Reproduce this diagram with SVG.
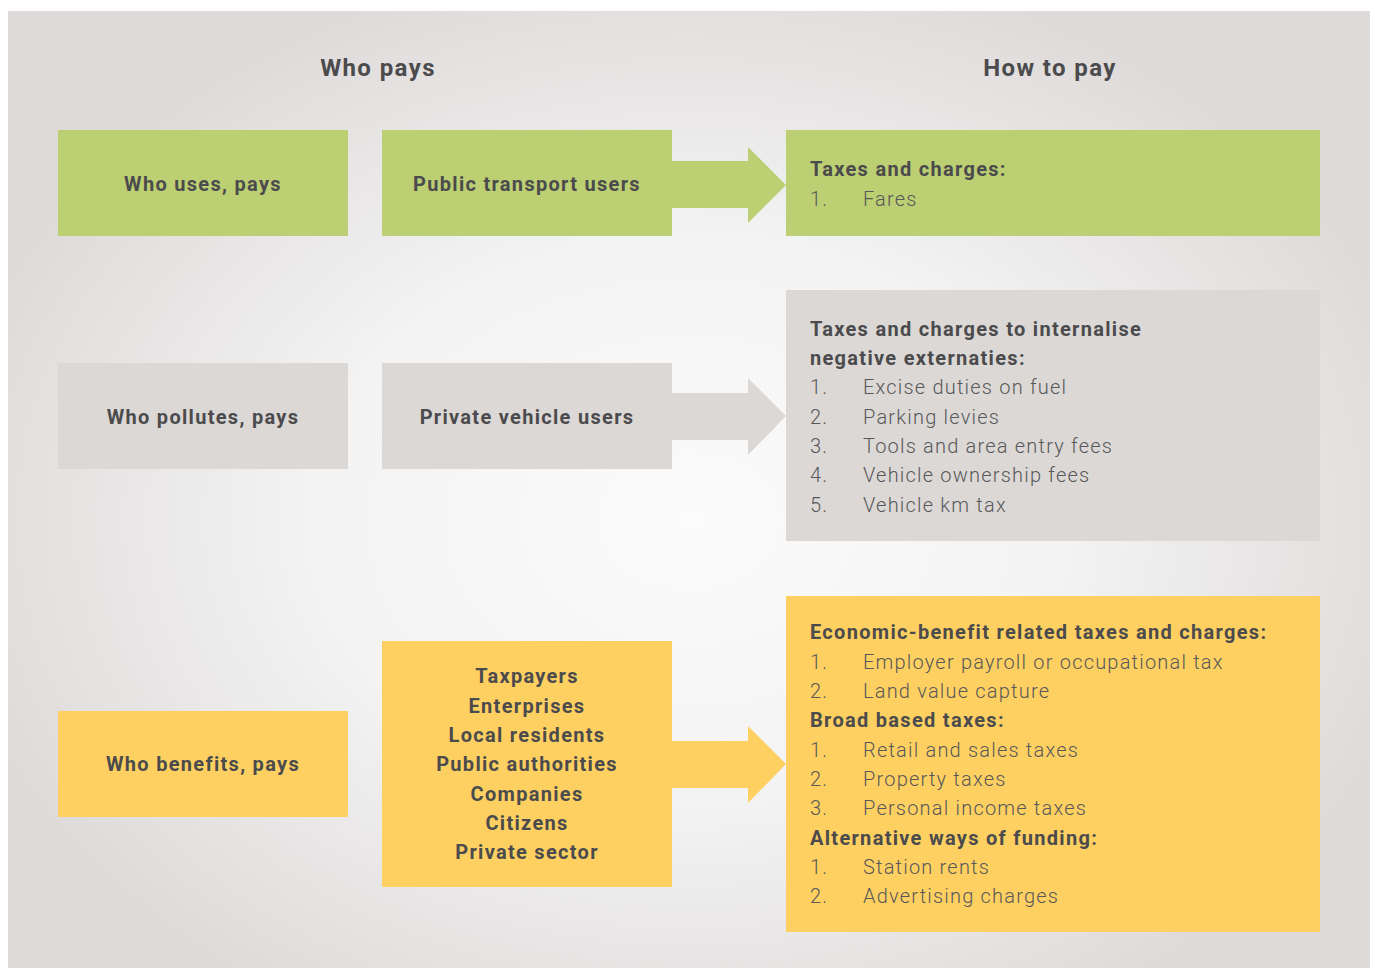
<svg xmlns="http://www.w3.org/2000/svg" width="1375" height="968" viewBox="0 0 1375 968">
<defs>
<radialGradient id="bg" cx="690" cy="520" r="760" gradientUnits="userSpaceOnUse" gradientTransform="translate(690 520) scale(1 0.75) translate(-690 -520)">
<stop offset="0" stop-color="#fbfbfb"/>
<stop offset="0.5" stop-color="#f3f3f3"/>
<stop offset="1" stop-color="#dedad9"/>
</radialGradient>
<style>
text{font-family:Roboto,"Liberation Sans",sans-serif;fill:#4b4b4d}
.h{font-size:24px;font-weight:bold;text-anchor:middle;letter-spacing:1.4px}
.b{font-size:20px;font-weight:bold;letter-spacing:1.3px}
.c{text-anchor:middle}
.i{font-size:20px;font-weight:300;fill:#58585a;letter-spacing:1.2px}
.g{fill:#bccf72}
.y{fill:#fed061}
.r{fill:#dcd8d5}
</style>
</defs>
<rect x="0" y="0" width="1375" height="968" fill="#ffffff"/>
<rect x="8" y="11" width="1362" height="957" fill="url(#bg)"/>
<text class="h" x="378" y="76">Who pays</text>
<text class="h" x="1050" y="76">How to pay</text>
<g id="connectors">
<polygon class="g" points="672,161 748,161 748,147 786,185 748,223 748,208 672,208"/>
<polygon class="r" points="672,393 748,393 748,378 786,416 748,455 748,440 672,440"/>
<polygon class="y" points="672,741 748,741 748,726 786,764 748,803 748,788 672,788"/>
</g>
<g id="who-uses">
<rect class="g" x="58" y="130" width="290" height="106"/>
<text class="b c" x="203" y="191">Who uses, pays</text>
</g>
<g id="public-transport">
<rect class="g" x="382" y="130" width="290" height="106"/>
<text class="b c" x="527" y="191">Public transport users</text>
</g>
<g id="taxes-charges">
<rect class="g" x="786" y="130" width="534" height="106"/>
<text class="b" x="810" y="176">Taxes and charges:</text>
<text class="i" x="810" y="206">1.</text><text class="i" x="863" y="206">Fares</text>
</g>
<g id="who-pollutes">
<rect class="r" x="58" y="363" width="290" height="106"/>
<text class="b c" x="203" y="424">Who pollutes, pays</text>
</g>
<g id="private-vehicle">
<rect class="r" x="382" y="363" width="290" height="106"/>
<text class="b c" x="527" y="424">Private vehicle users</text>
</g>
<g id="externalities">
<rect class="r" x="786" y="290" width="534" height="251"/>
<text class="b" x="810" y="336">Taxes and charges to internalise</text>
<text class="b" x="810" y="365">negative externaties:</text>
<text class="i" x="810" y="394">1.</text><text class="i" x="863" y="394">Excise duties on fuel</text>
<text class="i" x="810" y="424">2.</text><text class="i" x="863" y="424">Parking levies</text>
<text class="i" x="810" y="453">3.</text><text class="i" x="863" y="453">Tools and area entry fees</text>
<text class="i" x="810" y="482">4.</text><text class="i" x="863" y="482">Vehicle ownership fees</text>
<text class="i" x="810" y="512">5.</text><text class="i" x="863" y="512">Vehicle km tax</text>
</g>
<g id="who-benefits">
<rect class="y" x="58" y="711" width="290" height="106"/>
<text class="b c" x="203" y="771">Who benefits, pays</text>
</g>
<g id="beneficiaries">
<rect class="y" x="382" y="641" width="290" height="246"/>
<text class="b c" x="527" y="683">Taxpayers</text>
<text class="b c" x="527" y="713">Enterprises</text>
<text class="b c" x="527" y="742">Local residents</text>
<text class="b c" x="527" y="771">Public authorities</text>
<text class="b c" x="527" y="801">Companies</text>
<text class="b c" x="527" y="830">Citizens</text>
<text class="b c" x="527" y="859">Private sector</text>
</g>
<g id="economic-benefit">
<rect class="y" x="786" y="596" width="534" height="336"/>
<text class="b" x="810" y="639">Economic-benefit related taxes and charges:</text>
<text class="i" x="810" y="669">1.</text><text class="i" x="863" y="669">Employer payroll or occupational tax</text>
<text class="i" x="810" y="698">2.</text><text class="i" x="863" y="698">Land value capture</text>
<text class="b" x="810" y="727">Broad based taxes:</text>
<text class="i" x="810" y="757">1.</text><text class="i" x="863" y="757">Retail and sales taxes</text>
<text class="i" x="810" y="786">2.</text><text class="i" x="863" y="786">Property taxes</text>
<text class="i" x="810" y="815">3.</text><text class="i" x="863" y="815">Personal income taxes</text>
<text class="b" x="810" y="845">Alternative ways of funding:</text>
<text class="i" x="810" y="874">1.</text><text class="i" x="863" y="874">Station rents</text>
<text class="i" x="810" y="903">2.</text><text class="i" x="863" y="903">Advertising charges</text>
</g>
</svg>
